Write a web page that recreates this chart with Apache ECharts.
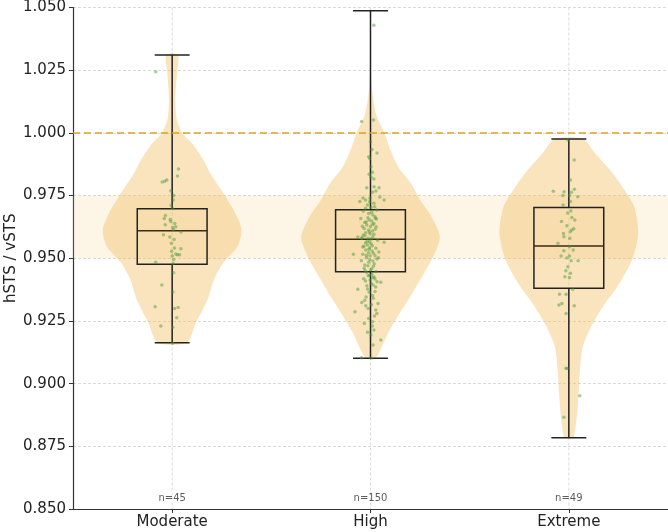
<!DOCTYPE html>
<html>
<head>
<meta charset="utf-8">
<script src="https://cdn.jsdelivr.net/npm/echarts@6/dist/echarts.min.js"></script>
<style>
  html, body { margin: 0; padding: 0; background: #fff; }
  #chart { width: 668px; height: 532px; }
</style>
</head>
<body>
<div id="chart"></div>
<script>
// categories and sample sizes
const categories = ['Moderate', 'High', 'Extreme'];
const counts = [45, 150, 49];

// box stats: [lower whisker, q1, median, q3, upper whisker]
const boxStats = [
    [0.9163, 0.9476, 0.9610, 0.9697, 1.0311],
    [0.9101, 0.9446, 0.9576, 0.9693, 1.0487],
    [0.8784, 0.9380, 0.9549, 0.9702, 0.9976],
];

// violin profiles: [value, relative half width]
const moderateViolin = [
    [0.9163, 0.21], [0.9241, 0.34], [0.9334, 0.51], [0.9413, 0.60],
    [0.9480, 0.73], [0.9546, 0.94], [0.9613, 1.0], [0.9679, 0.91],
    [0.9745, 0.77], [0.9839, 0.55], [0.9892, 0.45], [0.9958, 0.29],
    [0.9998, 0.15], [1.0051, 0.07], [1.0131, 0.045], [1.0238, 0.07],
    [1.0311, 0.085],
];
const highViolin = [
    [0.9101, 0.07], [0.9146, 0.16], [0.9200, 0.25], [0.9267, 0.39],
    [0.9345, 0.57], [0.9425, 0.74], [0.9505, 0.90], [0.9585, 1.0],
    [0.9665, 0.88], [0.9730, 0.72], [0.9800, 0.58], [0.9860, 0.41],
    [0.9930, 0.29], [1.0000, 0.20], [1.0065, 0.09], [1.0130, 0.04],
    [1.0200, 0.015], [1.0300, 0.007], [1.0487, 0.004],
];
const extremeViolin = [
    [0.8784, 0.06], [0.8815, 0.09], [0.8880, 0.12], [0.8960, 0.14],
    [0.9054, 0.16], [0.9147, 0.20], [0.9227, 0.32], [0.9307, 0.49],
    [0.9387, 0.70], [0.9493, 0.91], [0.9600, 1.0], [0.9706, 0.94],
    [0.9785, 0.77], [0.9850, 0.60], [0.9918, 0.38], [0.9976, 0.21],
];
const violinProfiles = [moderateViolin, highViolin, extremeViolin];

// jittered observations: [x offset from category, value]
const moderatePoints = [
    [-0.083, 1.0244], [0.032, 0.9856], [0.027, 0.9828], [-0.027, 0.9812],
    [-0.037, 0.9807], [-0.050, 0.9804], [-0.007, 0.9769], [0.005, 0.9732],
    [0.002, 0.9698], [-0.034, 0.9670], [-0.040, 0.9659], [-0.007, 0.9647],
    [0.013, 0.9639], [-0.035, 0.9634], [0.002, 0.9623], [0.018, 0.9626],
    [0.007, 0.9615], [0.044, 0.9605], [-0.044, 0.9594], [0.012, 0.9541],
    [0.044, 0.9538], [-0.003, 0.9528], [0.018, 0.9517], [0.027, 0.9514],
    [0.037, 0.9514], [0.000, 0.9509], [-0.083, 0.9484], [0.005, 0.9480],
    [0.007, 0.9442], [-0.052, 0.9393], [-0.086, 0.9307], [0.012, 0.9300],
    [0.030, 0.9304], [0.023, 0.9263], [-0.057, 0.9230], [0.003, 0.9225],
    [0.002, 0.9161], [0.010, 0.9575], [-0.010, 0.9655], [0.008, 0.9495],
    [-0.005, 0.9710], [-0.012, 0.9585], [0.004, 0.9365], [0.008, 0.9750],
    [-0.004, 0.9560],
];
const highPoints = [
    [0.017, 1.0429], [-0.045, 1.0045], [0.015, 1.0051], [0.000, 0.9965],
    [0.007, 0.9934], [0.033, 0.9920], [-0.009, 0.9905], [-0.004, 0.9898],
    [0.002, 0.9865], [0.010, 0.9843], [-0.007, 0.9835], [0.002, 0.9823],
    [0.017, 0.9816],
    [-0.019, 0.9781], [0.018, 0.9785], [0.043, 0.9781], [0.010, 0.9763],
    [0.027, 0.9768], [0.047, 0.9744], [0.069, 0.9732], [-0.003, 0.9739],
    [-0.025, 0.9732], [-0.054, 0.9726], [0.017, 0.9719], [-0.015, 0.9712],
    [0.003, 0.9702], [-0.025, 0.9699], [0.032, 0.9692], [-0.009, 0.9678],
    [0.012, 0.9672], [0.023, 0.9666], [-0.049, 0.9659], [-0.007, 0.9653],
    [0.007, 0.9649], [-0.029, 0.9643], [0.017, 0.9639], [-0.019, 0.9633],
    [0.000, 0.9627], [0.028, 0.9626], [-0.032, 0.9619], [-0.010, 0.9613],
    [0.010, 0.9609], [-0.024, 0.9602], [-0.002, 0.9598], [-0.037, 0.9593],
    [-0.064, 0.9585], [-0.042, 0.9582], [-0.012, 0.9580], [0.012, 0.9585],
    [-0.005, 0.9566], [-0.025, 0.9561], [0.003, 0.9558], [-0.015, 0.9553],
    [0.069, 0.9564], [-0.039, 0.9545], [-0.004, 0.9542], [-0.024, 0.9533],
    [0.008, 0.9529], [-0.010, 0.9522], [-0.039, 0.9516], [-0.086, 0.9516],
    [-0.002, 0.9510], [0.023, 0.9510], [-0.019, 0.9502], [0.040, 0.9502],
    [0.012, 0.9489], [-0.009, 0.9484], [-0.029, 0.9473], [0.015, 0.9468],
    [-0.032, 0.9460], [0.000, 0.9453], [-0.019, 0.9444], [0.007, 0.9436],
    [-0.012, 0.9430], [0.018, 0.9425], [0.023, 0.9417], [-0.002, 0.9413],
    [0.033, 0.9406], [0.052, 0.9404], [-0.025, 0.9409], [0.013, 0.9393],
    [-0.015, 0.9377], [-0.064, 0.9376], [0.023, 0.9367], [0.010, 0.9351],
    [-0.029, 0.9333], [-0.044, 0.9324], [0.038, 0.9320], [-0.024, 0.9311],
    [0.027, 0.9294], [-0.078, 0.9287], [0.032, 0.9280], [-0.009, 0.9260],
    [0.010, 0.9247], [0.017, 0.9214], [0.002, 0.9194], [0.052, 0.9174],
    [0.013, 0.9154], [-0.045, 0.9103], [0.003, 0.9101],
    [-0.004, 0.9725], [0.021, 0.9705], [-0.036, 0.9688], [0.006, 0.9683],
    [-0.013, 0.9662], [0.030, 0.9657], [-0.022, 0.9645], [0.011, 0.9635],
    [-0.041, 0.9628], [0.024, 0.9616], [-0.006, 0.9605], [0.017, 0.9596],
    [-0.028, 0.9590], [0.004, 0.9577], [0.036, 0.9572], [-0.017, 0.9568],
    [0.009, 0.9550], [-0.033, 0.9548], [0.027, 0.9540], [-0.008, 0.9536],
    [0.015, 0.9520], [-0.021, 0.9512], [0.032, 0.9497], [-0.003, 0.9494],
    [-0.046, 0.9490], [0.019, 0.9478], [-0.013, 0.9470], [0.006, 0.9458],
    [-0.027, 0.9450], [0.028, 0.9447], [-0.005, 0.9432], [0.012, 0.9422],
    [-0.034, 0.9418], [0.003, 0.9400], [-0.018, 0.9390], [0.026, 0.9385],
    [-0.007, 0.9365], [0.014, 0.9340], [-0.022, 0.9345], [0.005, 0.9315],
    [-0.012, 0.9300], [0.020, 0.9270], [-0.031, 0.9240], [0.009, 0.9230],
    [-0.015, 0.9205], [0.025, 0.9660], [-0.045, 0.9580], [0.042, 0.9525],
    [-0.038, 0.9740],
];
const extremePoints = [
    [-0.005, 0.9972], [0.027, 0.9892], [0.008, 0.9812], [0.028, 0.9775],
    [-0.078, 0.9767], [-0.024, 0.9765], [0.013, 0.9763], [0.045, 0.9745],
    [-0.030, 0.9750], [0.008, 0.9726], [-0.029, 0.9712], [0.010, 0.9688],
    [0.015, 0.9663], [0.030, 0.9653], [-0.037, 0.9647], [0.025, 0.9618],
    [0.015, 0.9613], [0.007, 0.9606], [-0.027, 0.9599], [-0.025, 0.9586],
    [-0.055, 0.9560], [0.003, 0.9546], [0.022, 0.9533], [-0.025, 0.9530],
    [-0.039, 0.9509], [0.003, 0.9509], [-0.010, 0.9501], [0.047, 0.9490],
    [-0.005, 0.9466], [-0.015, 0.9450], [-0.020, 0.9426], [0.003, 0.9423],
    [0.020, 0.9376], [-0.047, 0.9356], [-0.014, 0.9356], [-0.035, 0.9320],
    [-0.050, 0.9314], [0.027, 0.9311], [-0.014, 0.9280], [-0.014, 0.9061],
    [-0.009, 0.9060], [0.055, 0.8952], [-0.025, 0.8866], [0.005, 0.9580],
    [-0.010, 0.9630], [0.012, 0.9490], [-0.006, 0.9680], [0.008, 0.9440],
    [0.004, 0.9750],
];
const pointGroups = [moderatePoints, highPoints, extremePoints];

const refValue = 1.0;
const bandRange = [0.95, 0.975];
const yRange = [0.85, 1.05];

const VIOLIN_HALF = 0.35;
const BOX_HALF = 0.176;
const CAP_HALF = 0.088;
const FONT = 'DejaVu Sans';
const GRID_COLOR = '#d0d0d0';

const chart = echarts.init(document.getElementById('chart'), null, { renderer: 'canvas' });

// vertical dashed grid line at each category
function renderVGrid(params, api) {
    const i = api.value(0);
    const a = api.coord([i, yRange[1]]);
    const b = api.coord([i, yRange[0]]);
    return {
        type: 'line',
        shape: { x1: a[0], y1: a[1], x2: b[0], y2: b[1] },
        style: { stroke: GRID_COLOR, lineWidth: 0.8, lineDash: [3, 2] },
    };
}

function renderViolin(params, api) {
    const i = api.value(0);
    const prof = violinProfiles[i];
    const right = [];
    const left = [];
    prof.forEach(([v, w]) => {
        right.push(api.coord([i + w * VIOLIN_HALF, v]));
        left.unshift(api.coord([i - w * VIOLIN_HALF, v]));
    });
    return {
        type: 'polygon',
        shape: { points: right.concat(left), smooth: 0.25 },
        style: { fill: 'rgba(240, 190, 100, 0.42)', stroke: null },
    };
}

function renderBox(params, api) {
    const i = api.value(0);
    const lo = api.value(1), q1 = api.value(2), med = api.value(3), q3 = api.value(4), hi = api.value(5);
    const tl = api.coord([i - BOX_HALF, q3]);
    const br = api.coord([i + BOX_HALF, q1]);
    const line = (x1, y1, x2, y2, color) => {
        const a = api.coord([x1, y1]);
        const b = api.coord([x2, y2]);
        return {
            type: 'line',
            shape: { x1: a[0], y1: a[1], x2: b[0], y2: b[1] },
            style: { stroke: color || '#222', lineWidth: 1.5 },
        };
    };
    return {
        type: 'group',
        children: [
            line(i, q3, i, hi),
            line(i, q1, i, lo),
            line(i - CAP_HALF, hi, i + CAP_HALF, hi),
            line(i - CAP_HALF, lo, i + CAP_HALF, lo),
            {
                type: 'rect',
                shape: { x: tl[0], y: tl[1], width: br[0] - tl[0], height: br[1] - tl[1] },
                style: { fill: 'none', stroke: '#222', lineWidth: 1.5 },
            },
            line(i - BOX_HALF, med, i + BOX_HALF, med, '#3d2a14'),
        ],
    };
}

const option = {
    animation: false,
    backgroundColor: '#fff',
    grid: {
        left: 73,
        right: 0,
        top: 7.5,
        bottom: 23,
        containLabel: false,
        outerBoundsMode: 'none',
    },
    xAxis: {
        type: 'value',
        min: -0.5,
        max: 2.5,
        axisLine: { show: true, onZero: false, lineStyle: { color: '#333', width: 1.2 } },
        axisTick: {
            show: true,
            customValues: [0, 1, 2],
            length: 4,
            lineStyle: { color: '#333' },
        },
        axisLabel: {
            customValues: [0, 1, 2],
            formatter: (v) => categories[Math.round(v)],
            fontFamily: FONT,
            fontSize: 15,
            color: '#222',
            margin: 6,
        },
        splitLine: { show: false },
    },
    yAxis: {
        type: 'value',
        min: yRange[0],
        max: yRange[1],
        interval: 0.025,
        name: 'hSTS / vSTS',
        nameLocation: 'middle',
        nameGap: 54,
        nameRotate: 90,
        nameMoveOverlap: false,
        nameTextStyle: { fontFamily: FONT, fontSize: 15, color: '#222' },
        axisLine: { show: true, onZero: false, lineStyle: { color: '#333', width: 1.2 } },
        axisTick: { show: true, length: 4, lineStyle: { color: '#333' } },
        axisLabel: {
            formatter: (v) => v.toFixed(3),
            fontFamily: FONT,
            fontSize: 15,
            color: '#222',
            margin: 7,
        },
        splitLine: { show: true, lineStyle: { color: GRID_COLOR, type: [3, 2], width: 0.8 } },
    },
    series: [
        {
            name: 'vgrid',
            type: 'custom',
            renderItem: renderVGrid,
            data: categories.map((c, i) => [i, yRange[0]]),
            encode: { x: 0, y: 1 },
            z: 1,
            silent: true,
        },
        {
            name: 'violin',
            type: 'custom',
            renderItem: renderViolin,
            data: categories.map((c, i) => [i, boxStats[i][2]]),
            encode: { x: 0, y: 1 },
            z: 2,
            silent: true,
            markArea: {
                silent: true,
                itemStyle: { color: 'rgba(240, 190, 100, 0.16)' },
                data: [[{ yAxis: bandRange[0] }, { yAxis: bandRange[1] }]],
            },
        },
        {
            name: 'box',
            type: 'custom',
            renderItem: renderBox,
            data: boxStats.map((s, i) => [i, ...s]),
            encode: { x: 0, y: [1, 2, 3, 4, 5] },
            z: 4,
            silent: true,
        },
        {
            name: 'points',
            type: 'scatter',
            symbolSize: 3.5,
            itemStyle: { color: 'rgba(70, 155, 55, 0.6)' },
            data: pointGroups.flatMap((g, i) => g.map(([dx, v]) => [i + dx, v])),
            z: 5,
            silent: true,
            markLine: {
                silent: true,
                symbol: 'none',
                label: { show: false },
                lineStyle: { color: '#daa520', type: [7, 4], width: 1.6 },
                data: [{ yAxis: refValue }],
            },
        },
        {
            name: 'counts',
            type: 'scatter',
            symbolSize: 0,
            data: counts.map((n, i) => [i, yRange[0]]),
            label: {
                show: true,
                position: 'top',
                distance: 6,
                formatter: (p) => 'n=' + counts[p.dataIndex],
                fontFamily: FONT,
                fontSize: 10,
                color: '#333',
            },
            z: 6,
            silent: true,
        },
    ],
};

chart.setOption(option);
</script>
</body>
</html>
